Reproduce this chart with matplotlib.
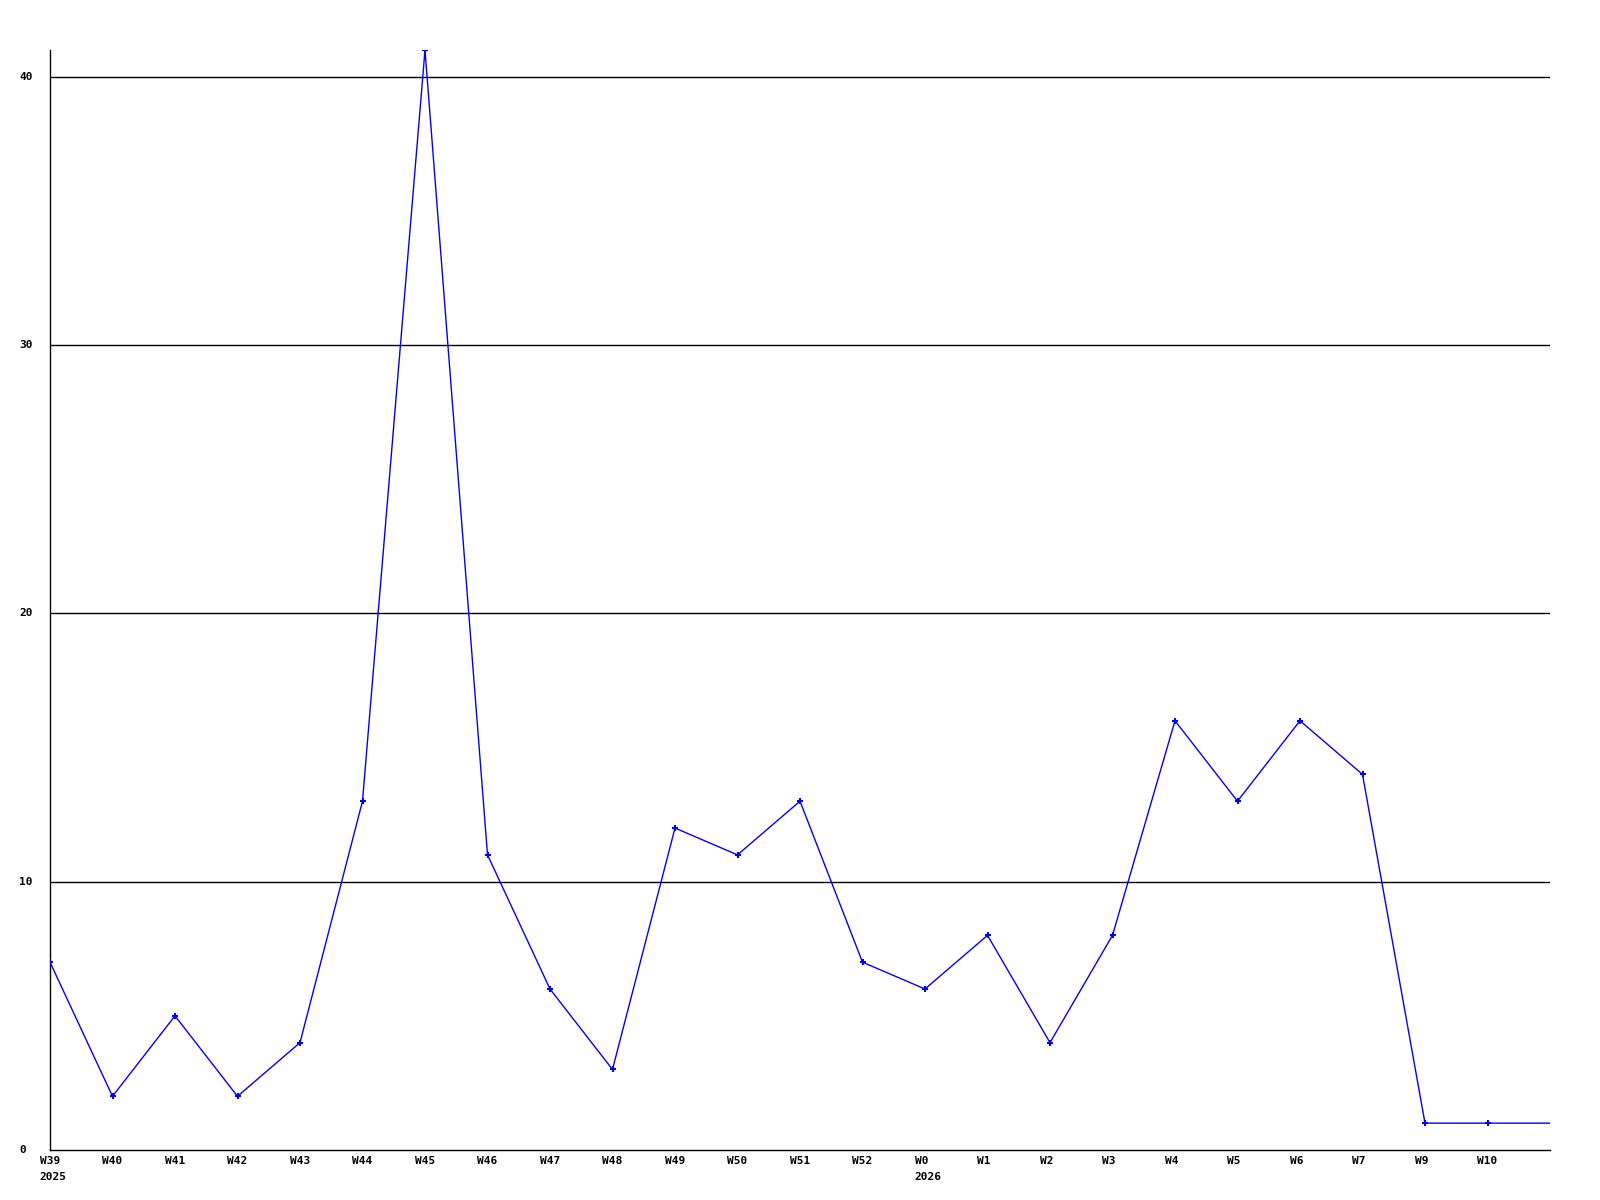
import matplotlib
matplotlib.use('Agg')
import matplotlib.pyplot as plt

# weekly counts, last value is the running week (no label, no marker)
weeks = ['W39', 'W40', 'W41', 'W42', 'W43', 'W44', 'W45', 'W46', 'W47', 'W48',
         'W49', 'W50', 'W51', 'W52', 'W0', 'W1', 'W2', 'W3', 'W4', 'W5',
         'W6', 'W7', 'W9', 'W10', '']
years = {0: '2025', 14: '2026'}
counts = [7, 2, 5, 2, 4, 13, 41, 11, 6, 3,
          12, 11, 13, 7, 6, 8, 4, 8, 16, 13,
          16, 14, 1, 1, 1]
yticks = [0, 10, 20, 30, 40]

fig = plt.figure(figsize=(16, 12), dpi=100)
ax = fig.add_axes([0.03125, 0.0417, 0.9375, 0.9166])

x = list(range(len(counts)))
ax.plot(x, counts, color='#0000ff', linewidth=1.0, marker='+', markersize=4,
        markeredgewidth=1.5, markevery=list(range(len(counts) - 1)), zorder=3)

for v in yticks[1:]:
    ax.axhline(v, color='black', linewidth=1.0, zorder=1)

ax.set_xlim(0, len(counts) - 1)
ax.set_ylim(0, 41)

font = dict(family='DejaVu Sans Mono', fontsize=8, fontweight='bold')
ax.set_yticks(yticks)
ax.set_yticklabels([])
ax.set_xticks(x)
ax.set_xticklabels([])

# y labels are left aligned in a column left of the axis
for v in yticks:
    ax.annotate(str(v), xy=(0, v), xycoords=('axes fraction', 'data'),
                xytext=(-22, 0), textcoords='offset points',
                ha='left', va='center', **font)

# week labels start a little left of their point, year on a second line
for i, w in enumerate(weeks):
    text = w + ('\n' + years[i] if i in years else '')
    ax.annotate(text, xy=(i, 0), xycoords=('data', 'axes fraction'),
                xytext=(-7.5, -4), textcoords='offset points',
                ha='left', va='top', linespacing=1.75, **font)

ax.tick_params(length=0)

for s in ['top', 'right']:
    ax.spines[s].set_visible(False)
for s in ['left', 'bottom']:
    ax.spines[s].set_linewidth(1.0)

fig.savefig('out.png', dpi=100)
